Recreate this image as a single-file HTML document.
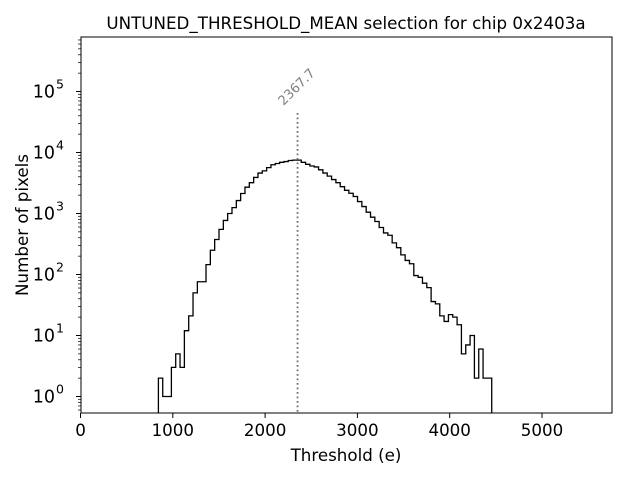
<!DOCTYPE html>
<html><head><meta charset="utf-8"><style>
body{margin:0;background:#fff}
svg text{font-family:"DejaVu Sans","Liberation Sans",sans-serif}
</style></head><body>
<svg id="chart" width="640" height="480" viewBox="0 0 640 480" xmlns="http://www.w3.org/2000/svg">
<rect width="640" height="480" fill="#fff"/>
<text x="346" y="29" font-size="16.7" text-anchor="middle">UNTUNED_THRESHOLD_MEAN selection for chip 0x2403a</text>
<text x="346" y="461" font-size="16.7" text-anchor="middle">Threshold (e)</text>
<text x="28" y="225" font-size="16.7" text-anchor="middle" transform="rotate(-90 28 225)">Number of pixels</text>
<g id="plot"></g>
</svg>
<script>
const binStart = 844;
const binWidth = 46.9;
const counts = [2,1,1,3,5,3,12,21,50,76,76,145,250,375,550,770,1000,1250,1630,2130,2700,3200,3900,4600,5000,5650,6300,6600,6900,7100,7400,7500,7500,
6900,6400,6000,5800,5200,4600,4100,3600,3200,2750,2400,2150,1900,1570,1300,1050,870,740,590,480,440,330,275,210,170,150,96,90,72,61,36,33,21,17,22,20,15,5,7,10,2,6,2,2];
const meanValue = 2367.7;
const xTicks = [0,1000,2000,3000,4000,5000];
const yTickExps = [0,1,2,3,4,5];

const L=81,R=612,T=37,B=413;
const X=v=>80.5+v*0.0923;
const Y=v=>396.5-61*Math.log10(v);
const NS='http://www.w3.org/2000/svg';
const g=document.getElementById('plot');
function mk(t,a){const e=document.createElementNS(NS,t);for(const k in a)e.setAttribute(k,a[k]);g.appendChild(e);return e;}

const defs=mk('defs',{});
const cp=document.createElementNS(NS,'clipPath');cp.setAttribute('id','clip');
const cr=document.createElementNS(NS,'rect');cr.setAttribute('x',L);cr.setAttribute('y',T);cr.setAttribute('width',R-L);cr.setAttribute('height',B-T);
cp.appendChild(cr);defs.appendChild(cp);

let d='M'+X(binStart)+','+(B+5);
counts.forEach((c,i)=>{const x0=X(binStart+i*binWidth),x1=X(binStart+(i+1)*binWidth),y=Y(c);d+=' L'+x0+','+y+' L'+x1+','+y;});
d+=' L'+X(binStart+counts.length*binWidth)+','+(B+5);
const h=mk('path',{d:d,fill:'none',stroke:'#000','stroke-width':1.3,'clip-path':'url(#clip)'});



const mx=X(meanValue)-1.5;
const ml=mk('line',{x1:mx,x2:mx,y1:113,y2:B,stroke:'#707070','stroke-width':1.8,'stroke-dasharray':'1.8,2.7'});


const mt=mk('text',{x:mx-14,y:106,'font-size':13,fill:'#808080',transform:'rotate(-45 '+(mx-14)+' 106)'});
mt.textContent=meanValue.toFixed(1);



const fr=mk('rect',{x:L,y:T,width:R-L,height:B-T,fill:'none',stroke:'#000','stroke-width':1});



xTicks.forEach(v=>{const x=X(v);
 mk('line',{x1:x,x2:x,y1:B,y2:B+5,stroke:'#000'});
 const t=mk('text',{x:x,y:B+23,'font-size':16.7,'text-anchor':'middle'});t.textContent=v;
 
 
});
yTickExps.forEach(e=>{const y=Y(Math.pow(10,e));
 mk('line',{x1:L-5,x2:L,y1:y,y2:y,stroke:'#000'});
 const t=mk('text',{x:L-26,y:y+6,'font-size':17.5,'text-anchor':'end'});t.textContent='10';
 
 
 const s=mk('text',{x:L-25,y:y-3,'font-size':12.5});s.textContent=e;
 
 
});
for(let e=-1;e<=5;e++)for(let k=2;k<=9;k++){const y=Y(k*Math.pow(10,e));if(y>T&&y<B)mk('line',{x1:L-3,x2:L,y1:y,y2:y,stroke:'#000','stroke-width':0.7});}
</script>
</body></html>
